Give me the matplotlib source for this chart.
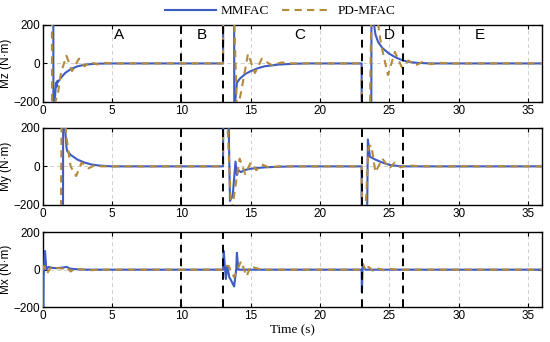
import numpy as np
import matplotlib
matplotlib.use("Agg")
import matplotlib.pyplot as plt

# ---- data (time in s, moment in N·m) ----
# Mz panel
mz_mmfac_t = [0, 0.75, 0.76, 0.85, 0.95, 1.0, 1.05, 1.1, 1.3, 1.6, 2.0, 2.5, 3.0, 3.5, 4.0, 5.0,
              13.0, 13.01, 13.8, 13.81, 13.9, 14.0, 14.2, 14.6, 15.0, 15.5, 16.0, 17.0, 18.0, 19.0,
              23.0, 23.01, 23.7, 23.71, 23.9, 24.0, 24.2, 24.5, 25.0, 25.5, 26.0, 26.5, 27.0, 28.0, 36.0]
mz_mmfac_v = [250, 250, -250, -200, -100, -120, -90, -95, -75, -50, -30, -15, -7, -3, -1, 0,
              0, 250, 250, -250, -180, -100, -80, -55, -40, -25, -15, -6, -2, 0,
              0, -250, -250, 250, 200, 150, 110, 80, 50, 30, 15, 7, 3, 0, 0]
mz_pd_t = [0, 0.65, 0.66, 0.9, 1.1, 1.3, 1.7, 2.1, 2.6, 3.0, 3.4, 3.9, 4.5, 5.0,
           13.0, 13.01, 13.8, 14.0, 14.3, 14.8, 15.3, 15.8, 16.5, 17.2, 18.0,
           23.0, 23.01, 23.6, 23.7, 24.1, 24.4, 24.9, 25.4, 25.9, 26.4, 26.9, 27.4, 28.0, 28.6, 29.5, 36.0]
mz_pd_v = [250, 250, -250, -200, -150, -50, 40, -40, 25, -15, 8, -5, 3, 0,
           0, 250, 250, -250, -150, 50, -50, 25, -10, 5, 0,
           0, -250, -250, 250, 250, 100, -60, 60, -20, 15, -10, 8, -4, 3, 0, 0]

# My panel
my_mmfac_t = [0, 1.45, 1.46, 1.6, 1.7, 1.75, 2.0, 2.5, 3.0, 3.5, 4.0, 4.5, 5.0,
              13.0, 13.01, 13.4, 13.5, 13.7, 13.9, 14.0, 14.1, 14.3, 14.5, 15.0, 16.0, 17.0, 18.0,
              23.0, 23.01, 23.4, 23.45, 23.6, 24.0, 24.5, 25.0, 25.5, 26.0, 36.0]
my_mmfac_v = [-250, -250, 250, 200, 100, 80, 60, 35, 20, 10, 5, 2, 0,
              0, 250, 250, -180, -150, 25, -45, -20, -30, -20, -12, -5, -2, 0,
              0, -250, -250, 140, 50, 35, 20, 8, 3, 0, 0]
my_pd_t = [0, 1.3, 1.35, 1.6, 1.7, 2.0, 2.4, 2.8, 3.3, 3.7, 4.2,
           13.0, 13.01, 13.3, 13.6, 13.9, 14.2, 14.6, 15.0, 15.4, 15.8, 16.3, 17.0,
           23.0, 23.01, 23.3, 23.5, 23.7, 24.0, 24.5, 25.0, 25.4, 25.8, 26.3, 27.0, 27.5, 36.0]
my_pd_v = [-250, -250, 250, 250, 150, 0, -50, 20, -10, 5, 0,
           0, 250, 250, -250, -100, 40, -40, 20, -20, 10, -5, 0,
           0, -250, -200, 100, 110, -30, 40, -10, 20, -5, 5, 2, 0, 0]

# Mx panel
mx_mmfac_t = [0, 0.02, 0.05, 0.15, 0.25, 0.4, 0.6, 1.0, 1.5, 1.7, 2.0, 2.5, 3.0,
              13.0, 13.05, 13.2, 13.3, 13.45, 13.6, 13.8, 13.95, 14.0, 14.1, 14.2,
              23.0, 23.02, 23.08, 23.15, 23.3, 36.0]
mx_mmfac_v = [0, -200, -40, 100, 0, 15, 10, 8, 12, 15, 5, 2, 0,
              0, 100, -50, 20, -40, -60, -90, 0, 90, 0, 0,
              0, -120, 30, 10, 0, 0]
mx_pd_t = [0, 0.1, 0.3, 0.6, 0.9, 1.5, 1.7, 2.0, 2.3, 3.5, 4.0,
           13.0, 13.2, 13.4, 13.8, 14.3, 14.7, 15.0, 15.3, 15.8,
           23.0, 23.1, 23.3, 23.5, 23.8, 24.1, 24.6, 25.0, 25.5, 36.0]
mx_pd_v = [0, 20, -20, 15, 10, 5, 15, -10, 5, -3, 0,
           0, 20, 20, -40, 45, -35, 20, 10, 0,
           0, 30, -5, 15, -5, 8, -3, 5, 0, 0]

panel_labels = ["Mz (N·m)", "My (N·m)", "Mx (N·m)"]
phase_names = ["A", "B", "C", "D", "E"]
phase_pos = [5.5, 11.5, 18.5, 25.0, 31.5]
phase_bounds = [10, 13, 23, 26]
x_ticks = [0, 5, 10, 15, 20, 25, 30, 35]
y_ticks = [-200, 0, 200]

blue = "#3d5cc4"
olive = "#b48a3c"

fig = plt.figure(figsize=(5.5, 3.42), dpi=100)
plt.rcParams["font.family"] = ["Liberation Sans", "DejaVu Sans"]

rects = [[0.078, 0.702, 0.907, 0.225],
         [0.078, 0.401, 0.907, 0.225],
         [0.078, 0.102, 0.907, 0.219]]
series = [(mz_mmfac_t, mz_mmfac_v, mz_pd_t, mz_pd_v),
          (my_mmfac_t, my_mmfac_v, my_pd_t, my_pd_v),
          (mx_mmfac_t, mx_mmfac_v, mx_pd_t, mx_pd_v)]

for i, (rect, s) in enumerate(zip(rects, series)):
    ax = fig.add_axes(rect)
    for xt in x_ticks[1:]:
        ax.axvline(xt, color="#cfcfcf", lw=0.7, ls=(0, (4, 3)), zorder=0)
    ax.axhline(0, color="#cfcfcf", lw=0.7, ls=(0, (4, 3)), zorder=0)
    l1, = ax.plot(s[0], s[1], color=blue, lw=1.5, label="MMFAC", zorder=3)
    l2, = ax.plot(s[2], s[3], color=olive, lw=1.5, ls=(0, (3.5, 2.5)), label="PD-MFAC", zorder=4)
    for b in phase_bounds:
        ax.axvline(b, color="black", lw=1.4, ls=(0, (4, 3)), zorder=5)
    ax.set_xlim(0, 36)
    ax.set_ylim(-200, 200)
    ax.set_xticks(x_ticks)
    ax.set_yticks(y_ticks)
    ax.tick_params(direction="in", top=True, right=True, labelsize=8.5, length=3, pad=2)
    ax.set_ylabel(panel_labels[i], fontsize=8.5, labelpad=1)
    for sp in ax.spines.values():
        sp.set_linewidth(1.0)
    if i == 0:
        for name, pos in zip(phase_names, phase_pos):
            ax.text(pos, 150, name, ha="center", va="center", fontsize=11)
    if i == 2:
        ax.set_xlabel("Time (s)", family="Liberation Serif", fontsize=9.5, labelpad=2)

fig.legend([l1, l2], ["MMFAC", "PD-MFAC"], loc="upper center", bbox_to_anchor=(0.51, 1.02),
           ncol=2, frameon=False, prop={"family": "Liberation Serif", "size": 9.5},
           handlelength=3.8, columnspacing=1.0, handletextpad=0.4)

fig.savefig("out.png", dpi=100)
